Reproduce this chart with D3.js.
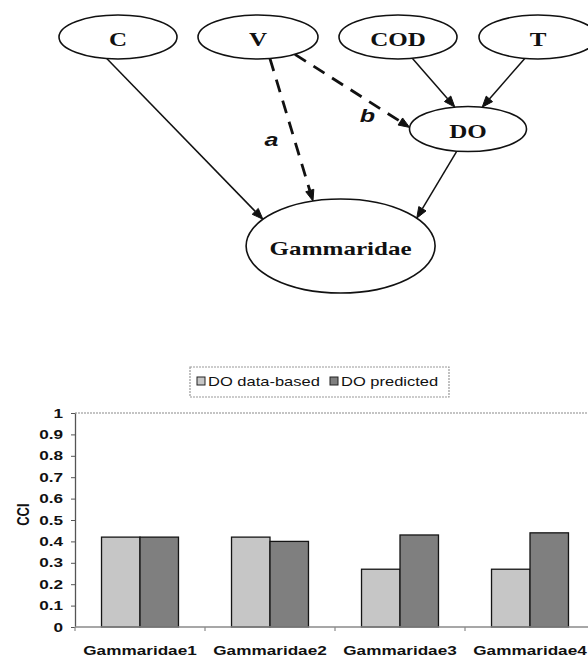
<!DOCTYPE html>
<html>
<head>
<meta charset="utf-8">
<script src="https://cdn.jsdelivr.net/npm/d3@7"></script>
<style>
  body { margin: 0; background: #fff; }
  svg { display: block; }
</style>
</head>
<body>
<svg id="fig" width="588" height="659"></svg>
<script>
// ---- network: nodes and directed edges ----
const nodeNames = ["C", "V", "COD", "T", "DO", "Gammaridae"];
const edgeSources = ["C", "V", "V", "COD", "T", "DO"];
const edgeTargets = ["Gammaridae", "Gammaridae", "DO", "DO", "DO", "Gammaridae"];
const edgeDashed = [false, true, true, false, false, false];
const edgeLabels = ["", "a", "b", "", "", ""];

// ---- bar chart data ----
const categories = ["Gammaridae1", "Gammaridae2", "Gammaridae3", "Gammaridae4"];
const seriesNames = ["DO data-based", "DO predicted"];
const dataBased = [0.42, 0.42, 0.27, 0.27];
const predicted = [0.42, 0.40, 0.43, 0.44];
const yTicks = [0, 0.1, 0.2, 0.3, 0.4, 0.5, 0.6, 0.7, 0.8, 0.9, 1];
const yTickLabels = ["0", "0.1", "0.2", "0.3", "0.4", "0.5", "0.6", "0.7", "0.8", "0.9", "1"];
const yTitle = "CCI";

const svg = d3.select("#fig");
const SX = 1.32; // horizontal stretch of all lettering

function label(parent, x, y, txt, opts) {
  const t = parent.append("text")
    .attr("transform", `translate(${x},${y}) scale(${SX},1)` + (opts.rotate ? ` rotate(${opts.rotate})` : ""))
    .attr("text-anchor", opts.anchor || "middle")
    .attr("dy", opts.dy || "0.35em")
    .attr("font-family", opts.family || "'Liberation Sans', Arial, sans-serif")
    .attr("font-size", opts.size || 13)
    .attr("font-weight", opts.weight || "bold")
    .attr("font-style", opts.style || "normal")
    .attr("fill", "#111")
    .text(txt);
  return t;
}

// ================= network diagram =================
const g = svg.append("g");

// node geometry: rank (row), column and ellipse radii
const nodeLayout = {
  C:          { rank: 0, col: 0,    rx: 59,   ry: 22 },
  V:          { rank: 0, col: 1,    rx: 60,   ry: 22 },
  COD:        { rank: 0, col: 2,    rx: 59,   ry: 22 },
  T:          { rank: 0, col: 3,    rx: 59,   ry: 22 },
  DO:         { rank: 1, col: 2.5,  rx: 58.5, ry: 22.5 },
  Gammaridae: { rank: 2, col: 1.59, rx: 94.5, ry: 47 }
};
const colX = d3.scaleLinear().domain([0, 3]).range([118, 538]);
const graphTop = 15, rankGap = 47.5;

// stack ranks: each rank starts a fixed gap below the previous rank's tallest node
const rankCount = 3;
const rankHalf = d3.range(rankCount).map(r =>
  d3.max(nodeNames.filter(n => nodeLayout[n].rank === r), n => nodeLayout[n].ry));
const rankY = [];
let cursor = graphTop;
for (let r = 0; r < rankCount; r++) {
  rankY.push(cursor + rankHalf[r]);
  cursor += 2 * rankHalf[r] + rankGap;
}

const nodes = {};
nodeNames.forEach(n => {
  const L = nodeLayout[n];
  nodes[n] = { name: n, x: colX(L.col), y: rankY[L.rank], rx: L.rx, ry: L.ry };
});

// attachment angles (degrees) on the tail and head ellipses, plus label offsets
const edgePorts = [
  { tail: 101, head: 214.7 },
  { tail: 78.5, head: 253,  lab: [-20, 10] },
  { tail: 52,  head: 184,  lab: [15, 24] },
  { tail: 76,  head: 257 },
  { tail: 103, head: 284 },
  { tail: 101, head: 323.7 }
];

function onEllipse(nd, deg) {
  const a = deg * Math.PI / 180;
  return [nd.x + nd.rx * Math.cos(a), nd.y + nd.ry * Math.sin(a)];
}

const arrowLen = 11, arrowHalf = 4.2;
edgeSources.forEach((s, i) => {
  const p = edgePorts[i];
  const [x1, y1] = onEllipse(nodes[s], p.tail);
  const [x2, y2] = onEllipse(nodes[edgeTargets[i]], p.head);
  const dx = x2 - x1, dy = y2 - y1, len = Math.hypot(dx, dy);
  const ux = dx / len, uy = dy / len;
  const bx = x2 - ux * arrowLen, by = y2 - uy * arrowLen;
  g.append("line")
    .attr("x1", x1).attr("y1", y1).attr("x2", bx).attr("y2", by)
    .attr("stroke", "#111")
    .attr("stroke-width", edgeDashed[i] ? 2.8 : 1.5)
    .attr("stroke-dasharray", edgeDashed[i] ? "13,9" : null);
  g.append("path")
    .attr("d", d3.line()([[x2, y2], [bx - uy * arrowHalf, by + ux * arrowHalf], [bx + uy * arrowHalf, by - ux * arrowHalf]]) + "Z")
    .attr("fill", "#111").attr("stroke", "#111").attr("stroke-width", 1);
  if (edgeLabels[i]) {
    const mx = (x1 + x2) / 2 + p.lab[0], my = (y1 + y2) / 2 + p.lab[1];
    label(g, mx, my, edgeLabels[i], { size: 19, style: "italic" });
  }
});

nodeNames.forEach(n => {
  const nd = nodes[n];
  g.append("ellipse")
    .attr("cx", nd.x).attr("cy", nd.y).attr("rx", nd.rx).attr("ry", nd.ry)
    .attr("fill", "#fff").attr("stroke", "#111").attr("stroke-width", 1.6);
  label(g, nd.x, nd.y + 2, n, { size: 19, family: "'Liberation Serif', 'Times New Roman', serif" });
});

// ================= bar chart =================
const c = svg.append("g");
const plot = { left: 75, right: 595, top: 413, bottom: 627 };

const y = d3.scaleLinear().domain([0, 1]).range([plot.bottom, plot.top]);
const x0 = d3.scaleBand().domain(categories).range([plot.left, plot.right])
  .paddingInner(0.408).paddingOuter(0.204);
const x1 = d3.scaleBand().domain(seriesNames).range([0, x0.bandwidth()]);
const fills = d3.scaleOrdinal().domain(seriesNames).range(["#c6c6c6", "#7f7f7f"]);
const values = [dataBased, predicted];

// top border of the plot area
c.append("line")
  .attr("x1", plot.left).attr("x2", plot.right)
  .attr("y1", y(1)).attr("y2", y(1))
  .attr("stroke", "#8a8a8a").attr("stroke-width", 1.2).attr("stroke-dasharray", "2,1");

// bars
categories.forEach((cat, ci) => {
  seriesNames.forEach((s, si) => {
    const v = values[si][ci];
    c.append("rect")
      .attr("x", x0(cat) + x1(s))
      .attr("y", y(v))
      .attr("width", x1.bandwidth())
      .attr("height", y(0) - y(v))
      .attr("fill", fills(s))
      .attr("stroke", "#151515").attr("stroke-width", 1.3);
  });
});

// y axis
const yAxis = c.append("g")
  .attr("transform", `translate(${plot.left},0)`)
  .call(d3.axisLeft(y).tickValues(yTicks).tickFormat((d, i) => yTickLabels[i]).tickSize(4).tickSizeOuter(0));
yAxis.select(".domain").attr("stroke", "#555").attr("stroke-width", 1.3);
yAxis.selectAll(".tick line").attr("stroke", "#555");
yAxis.selectAll(".tick text")
  .attr("x", -12 / SX)
  .attr("transform", `scale(${SX},1)`)
  .attr("font-family", "'Liberation Sans', Arial, sans-serif")
  .attr("font-size", 13).attr("font-weight", "bold").attr("fill", "#111");

label(c, 23, (y(0.47) + y(0.58)) / 2, yTitle, { size: 13, rotate: -90 });

// x axis line with category boundary ticks
c.append("line")
  .attr("x1", plot.left).attr("x2", plot.right)
  .attr("y1", y(0)).attr("y2", y(0))
  .attr("stroke", "#8a8a8a").attr("stroke-width", 1.3);
d3.range(categories.length + 1).forEach(k => {
  const bx = plot.left + k * x0.step();
  c.append("line")
    .attr("x1", bx).attr("x2", bx)
    .attr("y1", y(0)).attr("y2", y(0) + 4)
    .attr("stroke", "#8a8a8a").attr("stroke-width", 1.2);
});
categories.forEach(cat => {
  label(c, x0(cat) + x0.bandwidth() / 2, 650, cat, { size: 13 });
});

// legend
const lg = c.append("g");
lg.append("rect")
  .attr("x", 190).attr("y", 367).attr("width", 259).attr("height", 30)
  .attr("fill", "#fff").attr("stroke", "#999").attr("stroke-width", 1.2).attr("stroke-dasharray", "2,1");
const legendX = [197, 330];
seriesNames.forEach((s, i) => {
  lg.append("rect")
    .attr("x", legendX[i]).attr("y", 377).attr("width", 8).attr("height", 8)
    .attr("fill", fills(s)).attr("stroke", "#222").attr("stroke-width", 1);
  label(lg, legendX[i] + 11, 381.5, s, { size: 12.5, weight: "normal", anchor: "start" });
});
</script>
</body>
</html>
